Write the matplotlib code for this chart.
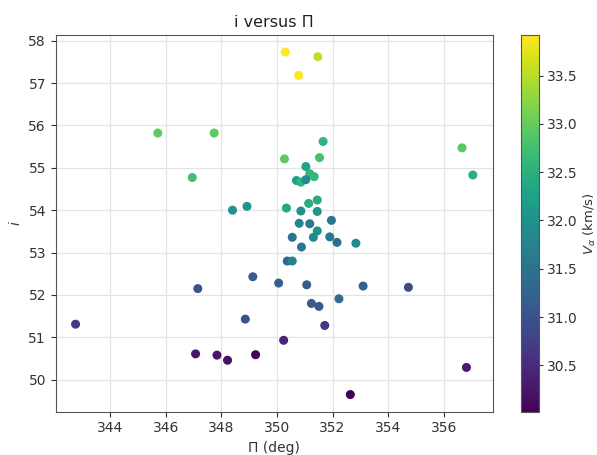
import matplotlib.pyplot as plt
import numpy as np

# longitude of periapsis (deg), inclination (deg) and velocity (km/s)
Pi = [350.30, 351.47, 350.78, 345.71, 347.74, 346.95, 350.27, 348.40, 348.92, 350.34,
      351.66, 351.53, 351.04, 351.18, 351.34, 350.70, 350.86, 351.04, 356.66, 357.05,
      351.14, 351.45, 350.86, 351.45, 350.80, 351.18, 351.96, 351.45, 350.55, 351.31,
      351.90, 350.88, 352.16, 352.84, 350.37, 350.55, 349.13, 350.06, 351.07, 353.10,
      354.73, 351.24, 351.51, 352.23, 351.72, 350.24, 349.23, 356.82, 352.64, 342.75,
      347.15, 348.86, 347.07, 347.84, 348.22]
inc = [57.73, 57.62, 57.18, 55.82, 55.82, 54.77, 55.21, 54.00, 54.09, 54.05,
       55.62, 55.24, 55.03, 54.86, 54.79, 54.70, 54.66, 54.72, 55.47, 54.83,
       54.16, 54.24, 53.98, 53.97, 53.69, 53.68, 53.76, 53.51, 53.36, 53.36,
       53.37, 53.13, 53.24, 53.22, 52.80, 52.80, 52.43, 52.28, 52.24, 52.21,
       52.18, 51.80, 51.73, 51.91, 51.28, 50.93, 50.59, 50.29, 49.65, 51.31,
       52.15, 51.43, 50.61, 50.58, 50.46]
Va = [33.90, 33.55, 33.92, 32.95, 32.95, 32.75, 32.95, 32.00, 32.05, 32.35,
      32.55, 32.75, 32.30, 32.60, 32.60, 32.20, 32.55, 31.90, 32.90, 32.50,
      32.45, 32.45, 31.95, 32.05, 31.80, 31.60, 31.60, 32.00, 31.50, 31.90,
      31.60, 31.60, 31.45, 31.90, 31.30, 31.70, 31.15, 31.15, 31.20, 31.20,
      30.90, 31.10, 31.10, 31.35, 30.65, 30.40, 30.05, 30.30, 30.02, 30.70,
      31.00, 31.05, 30.25, 30.25, 30.20]

fig = plt.figure(figsize=(5.97, 4.55), dpi=100)
ax = fig.add_axes([0.0933, 0.0952, 0.732, 0.828])
cax = fig.add_axes([0.8722, 0.0952, 0.0312, 0.828])

sc = ax.scatter(Pi, inc, c=Va, cmap='viridis', s=30, zorder=3)
ax.grid(True, color='#e4e4e4', linewidth=0.9, zorder=0)
ax.set_axisbelow(True)
ax.set_title('i versus Π', fontsize=11.5, color='#222222')
ax.set_xlabel('Π (deg)', fontsize=10, color='#333333')
ax.set_ylabel('$i$', fontsize=10, color='#333333')

for a in (ax, cax):
    for sp in a.spines.values():
        sp.set_color('#555555')
    a.tick_params(colors='#333333', labelsize=10)
cax.tick_params(length=3, pad=2.5)

cb = fig.colorbar(sc, cax=cax)
cb.set_label(r'$V_\alpha$ (km/s)', fontsize=9.5, color='#333333', labelpad=3)
cb.outline.set_edgecolor('#555555')

plt.savefig('out.png', dpi=100)
